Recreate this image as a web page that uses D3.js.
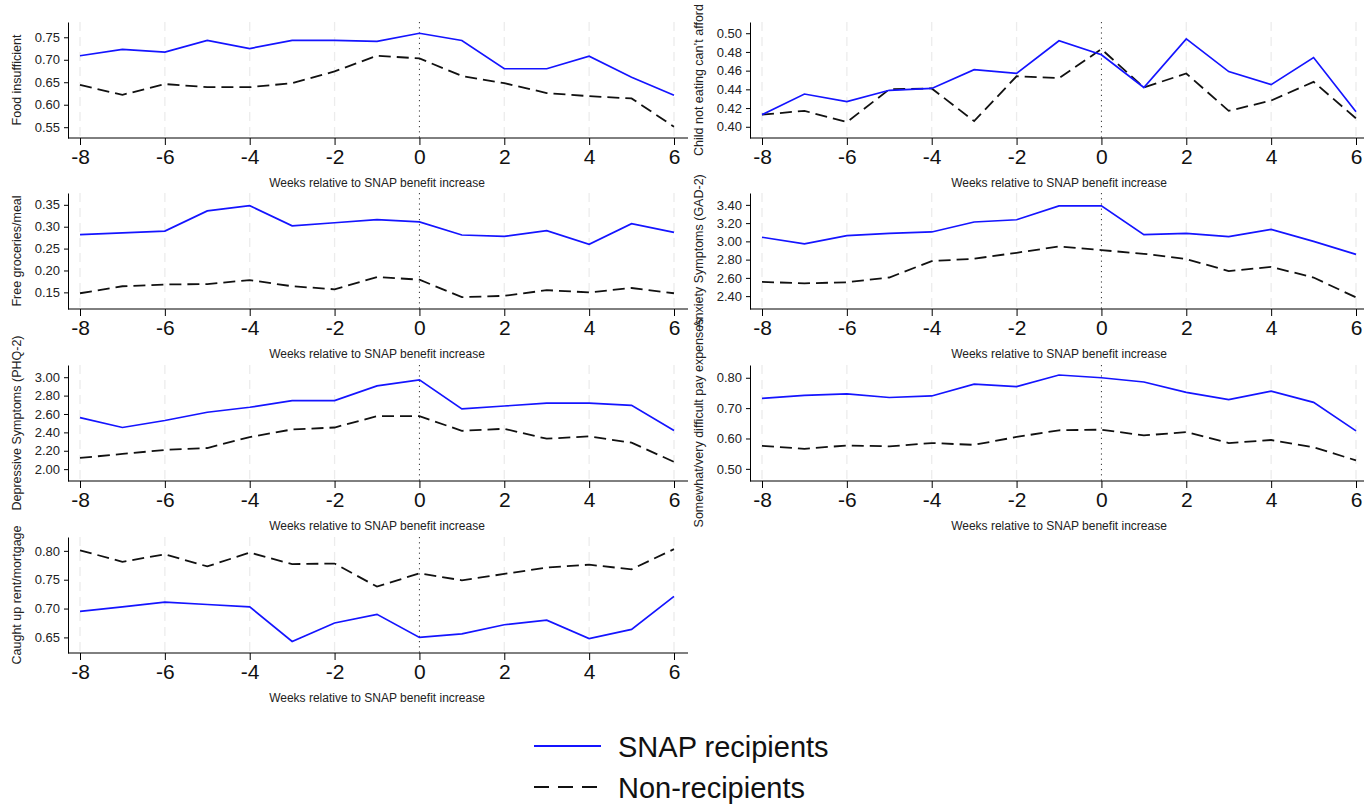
<!DOCTYPE html>
<html>
<head>
<meta charset="utf-8">
<script src="https://cdn.jsdelivr.net/npm/d3@7"></script>
<style>
    body { margin: 0; background: #fff; }
    svg { font-family: "Liberation Sans", Arial, sans-serif; }
</style>
</head>
<body>
<svg id="chart" width="1364" height="804"></svg>
<script>
// weeks relative to the SNAP benefit increase
const weeks = [-8, -7, -6, -5, -4, -3, -2, -1, 0, 1, 2, 3, 4, 5, 6];
const weekTicks = [-8, -6, -4, -2, 0, 2, 4, 6];

const foodSnap = [0.709, 0.723, 0.717, 0.743, 0.725, 0.743, 0.743, 0.741, 0.759, 0.743, 0.680, 0.680, 0.708, 0.661, 0.621];
const foodNon = [0.644, 0.622, 0.646, 0.639, 0.639, 0.648, 0.674, 0.709, 0.703, 0.664, 0.648, 0.626, 0.619, 0.614, 0.551];

const childSnap = [0.413, 0.435, 0.427, 0.439, 0.441, 0.461, 0.457, 0.492, 0.477, 0.442, 0.494, 0.459, 0.445, 0.474, 0.416];
const childNon = [0.413, 0.417, 0.405, 0.440, 0.441, 0.406, 0.454, 0.452, 0.483, 0.442, 0.457, 0.417, 0.428, 0.448, 0.409];

const freeSnap = [0.282, 0.286, 0.290, 0.336, 0.348, 0.302, 0.309, 0.316, 0.311, 0.281, 0.278, 0.291, 0.260, 0.307, 0.287];
const freeNon = [0.148, 0.164, 0.168, 0.169, 0.178, 0.164, 0.157, 0.185, 0.179, 0.139, 0.142, 0.155, 0.150, 0.160, 0.148];

const anxSnap = [3.045, 2.972, 3.063, 3.088, 3.103, 3.212, 3.237, 3.389, 3.389, 3.074, 3.088, 3.052, 3.132, 3.000, 2.857];
const anxNon = [2.556, 2.540, 2.552, 2.604, 2.784, 2.810, 2.875, 2.944, 2.904, 2.864, 2.806, 2.675, 2.720, 2.604, 2.386];

const depSnap = [2.561, 2.453, 2.529, 2.619, 2.673, 2.745, 2.745, 2.906, 2.971, 2.655, 2.687, 2.719, 2.719, 2.694, 2.421];
const depNon = [2.122, 2.165, 2.209, 2.230, 2.349, 2.432, 2.453, 2.576, 2.576, 2.417, 2.439, 2.331, 2.356, 2.288, 2.079];

const paySnap = [0.732, 0.742, 0.747, 0.735, 0.740, 0.779, 0.771, 0.809, 0.800, 0.786, 0.752, 0.728, 0.756, 0.719, 0.625];
const payNon = [0.576, 0.566, 0.577, 0.574, 0.585, 0.579, 0.605, 0.627, 0.629, 0.610, 0.621, 0.585, 0.595, 0.571, 0.528];

const rentSnap = [0.695, 0.703, 0.711, 0.707, 0.703, 0.643, 0.675, 0.690, 0.650, 0.656, 0.672, 0.680, 0.648, 0.664, 0.721];
const rentNon = [0.801, 0.781, 0.794, 0.773, 0.797, 0.777, 0.778, 0.738, 0.761, 0.749, 0.760, 0.771, 0.776, 0.768, 0.803];

const seriesNames = ['SNAP recipients', 'Non-recipients'];

// one entry per small chart
const panels = [
    { label: 'Food insufficient', snap: foodSnap, non: foodNon, ticks: [0.55, 0.60, 0.65, 0.70, 0.75], domain: [0.526, 0.784], col: 0, row: 0 },
    { label: 'Child not eating can\u2019t afford', snap: childSnap, non: childNon, ticks: [0.40, 0.42, 0.44, 0.46, 0.48, 0.50], domain: [0.388, 0.512], col: 1, row: 0 },
    { label: 'Free groceries/meal', snap: freeSnap, non: freeNon, ticks: [0.15, 0.20, 0.25, 0.30, 0.35], domain: [0.112, 0.377], col: 0, row: 1 },
    { label: 'Anxiety Symptoms (GAD-2)', snap: anxSnap, non: anxNon, ticks: [2.4, 2.6, 2.8, 3.0, 3.2, 3.4], domain: [2.259, 3.53], col: 1, row: 1 },
    { label: 'Depressive Symptoms (PHQ-2)', snap: depSnap, non: depNon, ticks: [2.0, 2.2, 2.4, 2.6, 2.8, 3.0], domain: [1.871, 3.133], col: 0, row: 2 },
    { label: 'Somewhat/very difficult pay expenses', snap: paySnap, non: payNon, ticks: [0.5, 0.6, 0.7, 0.8], domain: [0.46, 0.842], col: 1, row: 2 },
    { label: 'Caught up rent/mortgage', snap: rentSnap, non: rentNon, ticks: [0.65, 0.70, 0.75, 0.80], domain: [0.623, 0.824], col: 0, row: 3 }
];

const svg = d3.select('#chart');
const colShift = 682;
const rowTops = [22, 193, 365, 537];
const plotHeight = 116;

panels.forEach((p) => {
    let dx = p.col * colShift;
    let top = rowTops[p.row];
    let bottom = top + plotHeight;
    let x = d3.scaleLinear().domain([-8, 6]).range([80 + dx, 674 + dx]);
    let y = d3.scaleLinear().domain(p.domain).range([bottom, top]);
    let g = svg.append('g');

    // faint dashed grid at the labelled weeks
    g.selectAll('.grid').data(weekTicks.filter((w) => w !== 0)).enter().append('line')
        .attr('x1', (d) => x(d)).attr('x2', (d) => x(d))
        .attr('y1', top).attr('y2', bottom)
        .style('stroke', '#ececec').style('stroke-width', 1.3).style('stroke-dasharray', '9,6');

    // dotted reference line at week 0
    g.append('line')
        .attr('x1', x(0)).attr('x2', x(0)).attr('y1', top).attr('y2', bottom)
        .style('stroke', '#333').style('stroke-width', 1).style('stroke-dasharray', '1.2,4');

    let line = d3.line().x((d, i) => x(weeks[i])).y((d) => y(d));
    g.append('path').datum(p.non).attr('d', line)
        .style('fill', 'none').style('stroke', '#111').style('stroke-width', 1.8).style('stroke-dasharray', '12,6');
    g.append('path').datum(p.snap).attr('d', line)
        .style('fill', 'none').style('stroke', '#1414ff').style('stroke-width', 1.7);

    // y axis
    let yAxis = d3.axisLeft(y).tickValues(p.ticks).tickFormat(d3.format('.2f')).tickSize(4).tickSizeOuter(0).tickPadding(4);
    let ya = g.append('g').attr('transform', 'translate(' + (68 + dx) + ',0)').call(yAxis);
    ya.selectAll('text').style('font-size', '13px').style('fill', '#222');

    // x axis (line drawn by hand so it runs past the end ticks)
    let xAxis = d3.axisBottom(x).tickValues(weekTicks).tickFormat((d) => String(d)).tickSize(7).tickPadding(4);
    let xa = g.append('g').attr('transform', 'translate(0,' + bottom + ')').call(xAxis);
    xa.select('.domain').remove();
    xa.selectAll('text').style('font-size', '21px').style('fill', '#111');
    g.append('line').attr('x1', 68 + dx).attr('x2', 688 + dx).attr('y1', bottom).attr('y2', bottom)
        .style('stroke', '#000').style('stroke-width', 1);
    g.selectAll('.domain, .tick line').style('stroke', '#000');

    g.append('text').attr('x', (x(-8) + x(6)) / 2).attr('y', bottom + 49)
        .attr('text-anchor', 'middle').style('font-size', '12px').style('fill', '#222')
        .text('Weeks relative to SNAP benefit increase');

    g.append('text').attr('transform', 'translate(' + (17 + dx) + ',' + ((top + bottom) / 2) + ') rotate(-90)')
        .attr('dy', '0.35em').attr('text-anchor', 'middle').style('font-size', '12.5px').style('fill', '#222')
        .text(p.label);
});

// legend
let legend = svg.append('g');
legend.append('line').attr('x1', 534).attr('x2', 601).attr('y1', 746).attr('y2', 746)
    .style('stroke', '#1414ff').style('stroke-width', 2);
legend.append('line').attr('x1', 534).attr('x2', 601).attr('y1', 787).attr('y2', 787)
    .style('stroke', '#111').style('stroke-width', 2).style('stroke-dasharray', '15,9');
legend.selectAll('.lbl').data(seriesNames).enter().append('text')
    .attr('x', 618).attr('y', (d, i) => 757 + i * 41)
    .style('font-size', '29px').style('fill', '#111')
    .text((d) => d);
</script>
</body>
</html>
